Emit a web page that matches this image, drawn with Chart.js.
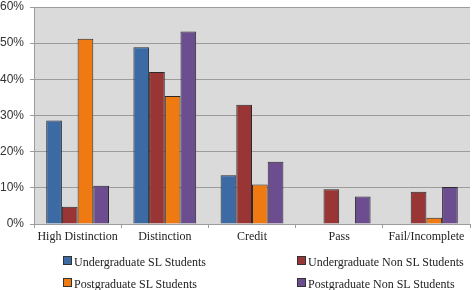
<!DOCTYPE html>
<html>
<head>
<meta charset="utf-8">
<script src="https://cdn.jsdelivr.net/npm/chart.js@4"></script>
<style>
    body { margin: 0; background: #fff; }
    #wrap { position: relative; width: 472px; height: 290px; }
    #legend { position: absolute; left: 0; top: 255px; width: 472px; font: 12px "Liberation Serif", serif; color: #222; }
    .item { position: absolute; white-space: nowrap; line-height: 14px; }
    .box { display: inline-block; width: 7px; height: 7px; border: 1px solid #333; margin-right: 2px; vertical-align: 1px; }
</style>
</head>
<body>
<div id="wrap">
    <canvas id="chart" width="472" height="290"></canvas>
    <div id="legend"></div>
</div>
<script>
// Categorieen en reeksen (percentages)
const categories = ["High Distinction", "Distinction", "Credit", "Pass", "Fail/Incomplete"];
const seriesNames = [
    "Undergraduate SL Students",
    "Undergraduate Non SL Students",
    "Postgraduate SL Students",
    "Postgraduate Non SL Students"
];
const ugSL = [28.6, 48.9, 13.5, 0, 0];
const ugNonSL = [4.8, 42.0, 33.0, 9.6, 8.9];
const pgSL = [51.2, 35.4, 10.9, 0, 1.7];
const pgNonSL = [10.6, 53.2, 17.2, 7.6, 10.2];
const colors = ["#3b6aa5", "#9a3535", "#f07a12", "#6c4e90"];

const plotBg = {
    id: 'plotBg',
    beforeDraw(chart) {
        const { ctx, chartArea: a } = chart;
        ctx.save();
        ctx.fillStyle = "#dadada";
        ctx.fillRect(a.left, a.top, a.right - a.left, a.bottom - a.top);
        ctx.restore();
    }
};

const seriesValues = [ugSL, ugNonSL, pgSL, pgNonSL];

new Chart(document.getElementById("chart").getContext("2d"), {
    type: "bar",
    data: {
        labels: categories,
        datasets: seriesValues.map((vals, i) => ({
            label: seriesNames[i],
            data: vals,
            backgroundColor: colors[i],
            borderColor: "#2a2a2a",
            borderWidth: 1,
            barPercentage: 1,
            categoryPercentage: 0.72
        }))
    },
    options: {
        responsive: false,
        animation: false,
        layout: { padding: { top: 7, right: 2, left: 0, bottom: 0 } },
        plugins: {
            legend: { display: false },
            tooltip: { enabled: false }
        },
        scales: {
            y: {
                min: 0,
                max: 60,
                ticks: {
                    stepSize: 10,
                    padding: 6,
                    color: "#333",
                    font: { family: "Liberation Sans", size: 12 },
                    callback: v => v + "%"
                },
                grid: { color: "#9c9c9c", tickLength: 4, lineWidth: 1 },
                border: { color: "#9c9c9c" },
                afterFit(s) { s.width = 34; s.paddingTop = 0; s.paddingBottom = 0; }
            },
            x: {
                ticks: {
                    padding: 2,
                    color: "#222",
                    font: { family: "Liberation Serif", size: 12 }
                },
                grid: { drawOnChartArea: false, tickLength: 4, color: "#9c9c9c", offset: true },
                border: { color: "#9c9c9c" },
                afterFit(s) { s.height = 66; }
            }
        }
    },
    plugins: [plotBg]
});

// Legenda in twee kolommen
const legend = document.getElementById("legend");
const pos = [[63, 0], [297, 0], [63, 22], [297, 22]];
seriesNames.forEach((name, i) => {
    const d = document.createElement("div");
    d.className = "item";
    d.style.left = pos[i][0] + "px";
    d.style.top = pos[i][1] + "px";
    d.innerHTML = '<span class="box" style="background:' + colors[i] + '"></span>' + name;
    legend.appendChild(d);
});
</script>
</body>
</html>
